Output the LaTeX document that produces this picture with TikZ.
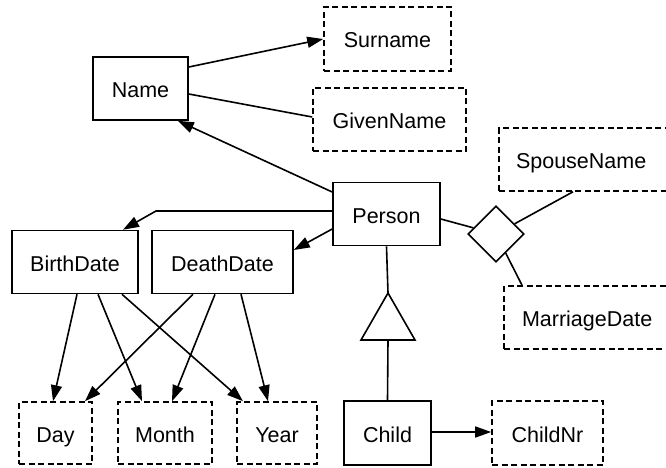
\documentclass[tikz,border=0pt]{standalone}
\usepackage{fontspec}
\setmainfont{Liberation Sans}
\usetikzlibrary{arrows.meta,shapes.geometric}

\tikzset{
  entity/.style={draw, line width=1.6pt, minimum height=63pt, inner sep=0pt,
                 text height=18pt, text depth=0pt,
                 font=\fontsize{21.5}{25}\selectfont},
  attr/.style={entity, dashed, dash pattern=on 6pt off 3.5pt},
  rel/.style={draw, line width=1.6pt, diamond, aspect=1, minimum size=56pt, inner sep=0pt},
  link/.style={line width=1.6pt},
  arr/.style={link, -{Triangle[length=16pt,width=11pt]}},
}

\begin{document}
\begin{tikzpicture}[x=1pt, y=-1pt]
  \useasboundingbox (0,0) rectangle (666,468);
  \clip (0,0) rectangle (666,468);

  % entities
  \node[entity, minimum width=95pt]  (name)   at (140.5,88.5) {Name};
  \node[entity, minimum width=107pt] (person) at (386.5,214)  {Person};
  \node[entity, minimum width=126pt] (birth)  at (75,262)     {BirthDate};
  \node[entity, minimum width=141pt] (death)  at (222.5,262)  {DeathDate};
  \node[entity, minimum width=87pt, minimum height=64pt] (child) at (387.5,433) {Child};

  % attributes
  \node[attr, minimum width=127pt, minimum height=64pt] (surname) at (387.5,39) {Surname};
  \node[attr, minimum width=153pt] (given)   at (389.5,119.5) {GivenName};
  \node[attr, minimum width=173pt, text width=139pt, align=left, inner xsep=17pt] (spouse) at (585.5,159.5) {SpouseName};
  \node[attr, minimum width=168pt, text width=132pt, align=left, inner xsep=18pt] (marriage) at (588,317.5) {MarriageDate};
  \node[attr, minimum width=73pt, minimum height=62pt]  (day)   at (55.5,433) {Day};
  \node[attr, minimum width=94pt, minimum height=62pt]  (month) at (165,433)  {Month};
  \node[attr, minimum width=80pt, minimum height=62pt]  (year)  at (277,433)  {Year};
  \node[attr, minimum width=111pt, minimum height=64pt] (childnr) at (547.5,433) {ChildNr};

  % relationship
  \node[rel] (dia) at (496,234) {};

  % specialisation triangle
  \coordinate (tritop) at (388,293);
  \coordinate (tribot) at (388,340);
  \draw[link, line join=miter] (tritop) -- (415,340) -- (361,340) -- cycle;
  \draw[link] (person.south) -- (tritop);
  \draw[link] (tribot) -- (child.north);

  % name parts
  \draw[arr]  ([yshift=21.5pt]name.east) -- (surname.west);
  \draw[link] ([yshift=-5.5pt]name.east) -- ([yshift=2.5pt]given.west);

  % person links
  \coordinate (bend) at (156,211);
  \draw[arr] ([yshift=22pt]person.west) -- ([xshift=-11pt]name.south east);
  \draw[arr] ([yshift=3pt]person.west) -- (bend) -- ([xshift=48pt]birth.north);
  \draw[arr] ([yshift=-15pt]person.west) -- ([yshift=12pt]death.east);

  % marriage relationship
  \draw[link] ([yshift=-5pt]person.east) -- (dia);
  \draw[link] (dia) -- ([xshift=-12.5pt]spouse.south);
  \draw[link] (dia) -- ([xshift=-66pt]marriage.north);

  % date parts
  \draw[arr] ([xshift=2pt]birth.south)   -- ([xshift=-2.5pt]day.north);
  \draw[arr] ([xshift=23pt]birth.south)  -- ([xshift=-23pt]month.north);
  \draw[arr] ([xshift=47pt]birth.south)  -- ([xshift=-34pt]year.north);
  \draw[arr] ([xshift=-29.5pt]death.south) -- ([xshift=29.5pt]day.north);
  \draw[arr] ([xshift=-7.5pt]death.south)  -- ([xshift=7pt]month.north);
  \draw[arr] ([xshift=18.5pt]death.south)  -- ([xshift=-9pt]year.north);

  % child number
  \draw[arr] ([yshift=1pt]child.east) -- ([yshift=1pt]childnr.west);
\end{tikzpicture}
\end{document}
